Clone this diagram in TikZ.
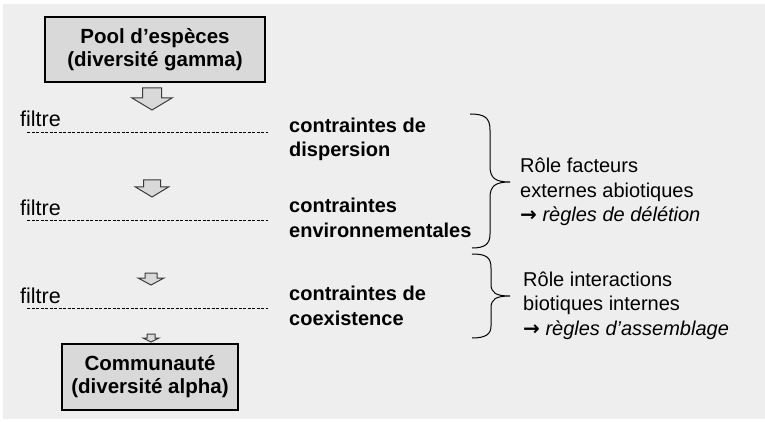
\documentclass[tikz,border=0pt]{standalone}
\usepackage{fontspec}
\setmainfont{Liberation Sans}
\newfontfamily\symb{DejaVu Sans}
\definecolor{fond}{HTML}{EEEEEE}
\definecolor{gris}{HTML}{D9D9D9}
\definecolor{contour}{HTML}{3A3A3A}
\tikzset{
  boite/.style={draw, line width=2.5pt, fill=gris, font=\fontsize{20.5}{23}\selectfont\bfseries, align=center, inner sep=0pt},
  flechebloc/.style={draw=contour, line width=1pt, fill=gris, line join=miter},
  texte/.style={anchor=base west, inner sep=0pt, align=left, font=\fontsize{20}{24.5}\selectfont},
  contrainte/.style={texte, font=\fontsize{20}{24.5}\selectfont\bfseries},
  filtretxt/.style={texte, font=\fontsize{21.5}{24}\selectfont},
  pointilles/.style={dash pattern=on 3pt off 1.5pt, line width=0.9pt},
}
% fleche en bloc vers le bas : centre, demi-tige, haut, demi-tete, debut tete, pointe
\newcommand{\flechebas}[6]{%
  \draw[flechebloc] ({#1-#2},#3) -- ({#1+#2},#3) -- ({#1+#2},#5) -- ({#1+#4},#5)
    -- (#1,#6) -- ({#1-#4},#5) -- ({#1-#2},#5) -- cycle;}
\newcommand{\fl}{{\symb\bfseries →}}
\begin{document}
\begin{tikzpicture}[x=1pt, y=-1pt]
    \useasboundingbox (0,0) rectangle (765,422);
    \fill[fond] (3,4) rectangle (765,419);

    % Pool regional
    \node[boite, minimum width=220pt, minimum height=65pt] (pool) at (155,49.5)
        {Pool d’espèces\\(diversité gamma)};

    % Fleches successives
    \flechebas{152}{9.5}{88}{20}{98}{110}
    \flechebas{152}{8.5}{180}{16.5}{187}{197}
    \flechebas{151}{6}{273}{13}{278}{285}
    \flechebas{151}{4}{334}{8}{338}{342}

    % Filtres
    \node[filtretxt] (filtre1) at (20,127) {filtre};
    \node[filtretxt] (filtre2) at (20,215) {filtre};
    \node[filtretxt] (filtre3) at (20,303) {filtre};
    \draw[pointilles] (27,132) -- (268,132);
    \draw[pointilles] (27,220) -- (268,220);
    \draw[pointilles] (27,308) -- (268,308);

    % Contraintes (ancre sur la derniere ligne)
    \node[contrainte] (disp) at (289,157) {contraintes de\\dispersion};
    \node[contrainte] (env) at (289,237) {contraintes\\environnementales};
    \node[contrainte] (coex) at (289,325) {contraintes de\\coexistence};

    % Accolades
    \draw[line width=1pt] (470,114) .. controls (485,114) and (490,118) .. (490,130)
        -- (490,166) .. controls (490,178) and (495,182) .. (510,182)
        .. controls (495,182) and (490,186) .. (490,198)
        -- (490,234) .. controls (490,244) and (485,248) .. (472,248);
    \draw[line width=1pt] (472,254) .. controls (486,254) and (491,257) .. (491,268)
        -- (491,284) .. controls (491,293) and (496,296) .. (510,296)
        .. controls (496,296) and (491,299) .. (491,308)
        -- (491,326) .. controls (491,334) and (486,338) .. (472,338);

    % Roles
    \node[texte] (abio) at (520,222) {Rôle facteurs\\externes abiotiques\\\fl{} \textit{règles de délétion}};
    \node[texte] (bio) at (523,335) {Rôle interactions\\biotiques internes\\\fl{} \textit{règles d’assemblage}};

    % Communaute locale
    \node[boite, minimum width=176pt, minimum height=66pt] (commu) at (150,377)
        {Communauté\\(diversité alpha)};
\end{tikzpicture}
\end{document}
